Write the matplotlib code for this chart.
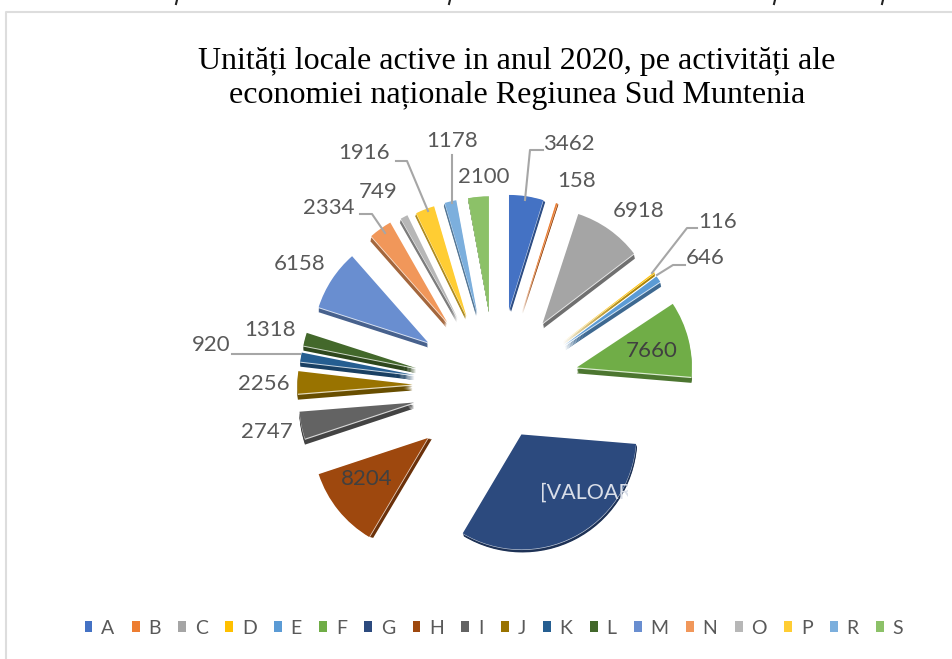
import matplotlib
matplotlib.use('Agg')
import matplotlib.pyplot as plt
from matplotlib.colors import to_rgb
from matplotlib.transforms import Bbox, TransformedBbox

# Data (G has no printed value, estimated from its angle)
categories = ['A', 'B', 'C', 'D', 'E', 'F', 'G', 'H', 'I', 'J', 'K', 'L', 'M', 'N', 'O', 'P', 'R', 'S']
values = [3462, 158, 6918, 116, 646, 7660, 23200, 8204, 2747, 2256, 920, 1318, 6158, 2334, 749, 1916, 1178, 2100]
value_labels = ['3462', '158', '6918', '116', '646', '7660', '[VALOARE]', '8204', '2747', '2256', '920', '1318',
                '6158', '2334', '749', '1916', '1178', '2100']
colors = ['#4472C4', '#ED7D31', '#A5A5A5', '#FFC000', '#5B9BD5', '#70AD47', '#2C4A7E', '#9E480E', '#636363',
          '#997300', '#255E91', '#43682B', '#698ED0', '#F1975A', '#B7B7B7', '#FFCD33', '#7CAFDD', '#8CC168']
title = 'Unități locale active in anul 2020, pe activități ale\neconomiei naționale Regiunea Sud Muntenia'

# Layout, in picture pixels
W, H = 952, 659
cx, cy = 496.5, 394
radius = 115
explode = [83, 83, 83, 83, 83, 83, 50, 83, 83, 83, 83, 83, 83, 83, 83, 83, 83, 83]
# per slice correction for the perspective of the original 3D chart
nudge = [(0, -2), (0, -2), (-2, -3), (0, -2), (0, -1), (0, -6), (2, -4), (-4, -8), (-1, -8), (-1, -8), (0, -6),
         (0, -5), (1, -6), (-1, -4), (0, -2), (0, 0), (0, 0), (0, 0)]
rim = [(2, 2), (1, 1), (1, 5), (0, 3), (1, 5), (0, 6), (1, 3), (4, 1), (0, 6), (0, 6), (0, 5), (0, 5), (0, 5),
       (-1, 5), (-1, 4), (-1, 3), (-1, 3), (0, 1)]
label_pos = [(569, 144), (577, 181), (639, 211), (718, 222), (705, 258), (652, 351), (595, 493), (367, 479),
             (267, 432), (264, 384), (211, 345), (270, 330), (300, 264), (329, 208), (378, 192), (364, 153),
             (452, 141), (484, 177)]
leaders = [[(525, 200), (530, 150), (543, 150)],
           [(652, 273), (687, 228), (697, 228)],
           [(657, 275), (673, 265), (685, 265)],
           [(300, 354), (232, 354)],
           [(385, 233), (372, 214), (360, 214)],
           [(428, 211), (407, 161), (396, 161)],
           [(452, 203), (452, 155)]]
# tails of the line of text cut off above the chart
cut_marks = [176, 449, 774, 882]


def flip(y):
    return H - y


def draw_pie(ax, cols, shift=1.0):
    wedges, _ = ax.pie(values, explode=explode, colors=cols, radius=radius, center=(cx, flip(cy)),
                       startangle=90, counterclock=False, frame=True)
    for w, (dx, dy), (nx, ny) in zip(wedges, rim, nudge):
        w.set_center((w.center[0] + nx + dx * shift, w.center[1] - ny - dy * shift))
        w.set_linewidth(0)
    return wedges


fig = plt.figure(figsize=(W / 100, H / 100), dpi=100)
ax = fig.add_axes([0, 0, 1, 1])

# Fake 3D depth: darker copies under the top face
dark = [tuple(c * 0.68 for c in to_rgb(col)) for col in colors]
for shift in [1.0, 0.8, 0.6, 0.4]:
    draw_pie(ax, dark, shift)
draw_pie(ax, [tuple(0.25 * c + 0.75 for c in to_rgb(col)) for col in colors], 0.2)
tops = draw_pie(ax, colors, 0.0)

ax.set_xlim(0, W)
ax.set_ylim(0, H)
ax.set_aspect('auto')
ax.axis('off')

# Frame of the pasted chart
ax.plot([6, 6, W], [0, flip(12), flip(12)], color='#DDDDDD', lw=1.5)
for x in cut_marks:
    ax.plot([x + 1, x], [flip(0), flip(4)], color='#222222', lw=1.5)

for path in leaders:
    ax.plot([p[0] for p in path], [flip(p[1]) for p in path], color='#A6A6A6', lw=1.5, zorder=1)

for i, (txt, pos) in enumerate(zip(value_labels, label_pos)):
    col = '#595959'
    size = 16
    if categories[i] in ('F', 'H'):
        col = '#404040'
    if categories[i] == 'G':
        col = '#D9DEE8'
        size = 15.5
    t = ax.text(pos[0], flip(pos[1]), txt, ha='center', va='center', fontsize=size, family='Lato', color=col)
    if categories[i] == 'G':
        # the original label is cut off where the slice ends
        t.set_clip_on(True)
        t.set_clip_box(TransformedBbox(Bbox([[0, 0], [628, H]]), ax.transData))

ax.text(517, flip(78), title, ha='center', va='center', fontsize=23, family='Liberation Serif',
        color='black', linespacing=1.2)

leg = ax.legend(tops, categories, loc='center', bbox_to_anchor=(494 / W, 1 - 628 / H), ncol=18, frameon=False,
                prop={'family': 'Lato', 'size': 14}, labelcolor='#595959', handlelength=0.4, handleheight=0.5,
                handletextpad=0.45, columnspacing=0.9, borderpad=0)

fig.savefig('out.png', dpi=100)
